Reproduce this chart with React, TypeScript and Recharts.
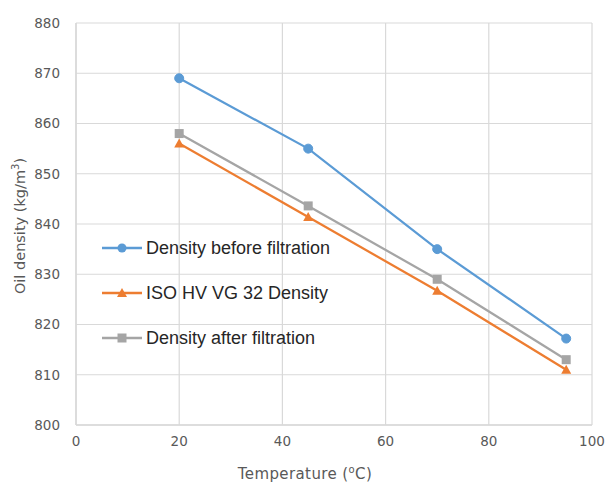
import React from "react";
import {
  LineChart,
  Line,
  XAxis,
  YAxis,
  CartesianGrid,
  Label,
} from "recharts";

const temperatures = [20, 45, 70, 95];
const densityBefore = [869, 855, 835, 817.2];
const isoDensity = [856, 841.4, 826.7, 811];
const densityAfter = [858, 843.6, 829, 813];

const xTicks = [0, 20, 40, 60, 80, 100];
const yTicks = [800, 810, 820, 830, 840, 850, 860, 870, 880];

const data = temperatures.map((t, i) => ({
  t,
  before: densityBefore[i],
  iso: isoDensity[i],
  after: densityAfter[i],
}));

const BLUE = "#5b9bd5";
const ORANGE = "#ed7d31";
const GRAY = "#a5a5a5";

const tickStyle = { fontSize: 13.5, fill: "#595959", fontFamily: "DejaVu Sans" };

function CircleDot(props: any) {
  const { cx, cy } = props;
  if (cx == null || cy == null) return null;
  return <circle cx={cx} cy={cy} r={4.5} fill={BLUE} stroke={BLUE} />;
}

function TriangleDot(props: any) {
  const { cx, cy } = props;
  if (cx == null || cy == null) return null;
  return (
    <polygon
      points={`${cx},${cy - 5} ${cx + 5},${cy + 4} ${cx - 5},${cy + 4}`}
      fill={ORANGE}
    />
  );
}

function SquareDot(props: any) {
  const { cx, cy } = props;
  if (cx == null || cy == null) return null;
  return <rect x={cx - 4.5} y={cy - 4.5} width={9} height={9} fill={GRAY} />;
}

const legendItems = [
  { name: "Density before filtration", color: BLUE, marker: "circle" },
  { name: "ISO HV VG 32 Density", color: ORANGE, marker: "triangle" },
  { name: "Density after filtration", color: GRAY, marker: "square" },
];

function ChartLegend() {
  return (
    <svg width={280} height={110}>
      {legendItems.map((item, i) => {
        const y = 10 + i * 45;
        return (
          <g key={item.name}>
            <line x1={2} x2={42} y1={y} y2={y} stroke={item.color} strokeWidth={2.5} />
            {item.marker === "circle" && <circle cx={22} cy={y} r={4.5} fill={item.color} />}
            {item.marker === "triangle" && (
              <polygon points={`22,${y - 5} 27,${y + 4} 17,${y + 4}`} fill={item.color} />
            )}
            {item.marker === "square" && (
              <rect x={17.5} y={y - 4.5} width={9} height={9} fill={item.color} />
            )}
            <text
              x={46}
              y={y + 6}
              fontSize={18}
              fontFamily="Liberation Sans, Arial"
              fill="#262626"
            >
              {item.name}
            </text>
          </g>
        );
      })}
    </svg>
  );
}

function XTitle() {
  return (
    <text
      x={305}
      y={479}
      textAnchor="middle"
      fontSize={15}
      letterSpacing={0.4}
      fontFamily="DejaVu Sans"
      fill="#595959"
    >
      Temperature (
      <tspan fontSize={10} dy={-6}>o</tspan>
      <tspan dy={6}>C)</tspan>
    </text>
  );
}

function YTitle() {
  return (
    <text
      x={0}
      y={0}
      transform="translate(25, 226) rotate(-90)"
      textAnchor="middle"
      fontSize={14.5}
      fontFamily="DejaVu Sans"
      fill="#595959"
    >
      Oil density (kg/m
      <tspan fontSize={10} dy={-6}>3</tspan>
      <tspan dy={6}>)</tspan>
    </text>
  );
}

export default function App() {
  return (
    <div style={{ position: "absolute", left: 0, top: 0, width: 608, height: 484, background: "#fff" }}>
      <LineChart
        width={608}
        height={484}
        data={data}
        margin={{ top: 23, right: 16, left: 0, bottom: 0 }}
      >
        <CartesianGrid stroke="#d9d9d9" strokeWidth={1.2} />
        <XAxis
          type="number"
          dataKey="t"
          domain={[0, 100]}
          ticks={xTicks}
          tick={tickStyle}
          tickSize={0}
          tickMargin={11}
          axisLine={{ stroke: "#d9d9d9", strokeWidth: 1.5 }}
          tickLine={false}
          height={59}
          interval={0}
        >
          <Label content={<XTitle />} />
        </XAxis>
        <YAxis
          type="number"
          domain={[800, 880]}
          ticks={yTicks}
          tick={tickStyle}
          tickSize={0}
          tickMargin={16}
          axisLine={{ stroke: "#d9d9d9", strokeWidth: 1.5 }}
          tickLine={false}
          width={76}
          interval={0}
        >
          <Label content={<YTitle />} />
        </YAxis>
        <Line
          dataKey="before"
          name="Density before filtration"
          stroke={BLUE}
          strokeWidth={2.25}
          dot={<CircleDot />}
          activeDot={false}
          isAnimationActive={false}
        />
        <Line
          dataKey="iso"
          name="ISO HV VG 32 Density"
          stroke={ORANGE}
          strokeWidth={2.25}
          dot={<TriangleDot />}
          activeDot={false}
          isAnimationActive={false}
        />
        <Line
          dataKey="after"
          name="Density after filtration"
          stroke={GRAY}
          strokeWidth={2.25}
          dot={<SquareDot />}
          activeDot={false}
          isAnimationActive={false}
        />
      </LineChart>
      <div style={{ position: "absolute", left: 100, top: 238 }}>
        <ChartLegend />
      </div>
    </div>
  );
}
